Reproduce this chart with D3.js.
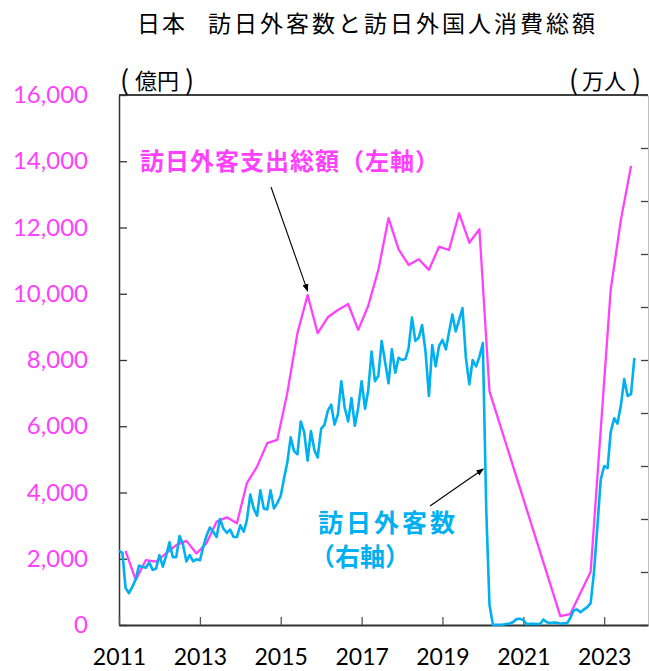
<!DOCTYPE html>
<html>
<head>
<meta charset="utf-8">
<script src="https://cdn.jsdelivr.net/npm/d3@7"></script>
<style>
  body { margin: 0; background: #fff; }
  text { font-family: "Noto Sans CJK JP", sans-serif; }
  .num text { font-family: Lato, "Liberation Sans", sans-serif; }
</style>
</head>
<body>
<div id="chart"></div>
<script>
// 訪日外客数（万人、月次、2011年1月から）
let visitorStart = [2011, 0]
let visitors = [
  70, 68, 35, 30, 36, 43, 56, 55, 54, 59, 52, 53,
  66, 55, 65, 78, 64, 64, 84, 76, 60, 66, 60, 62,
  61, 74, 84, 92, 88, 83, 100, 91, 87, 90, 83, 83,
  94, 88, 99, 123, 110, 103, 127, 110, 109, 127, 110, 115,
  122, 139, 153, 177, 164, 161, 192, 182, 155, 183, 165, 158,
  185, 189, 202, 208, 189, 199, 230, 205, 192, 214, 188, 205,
  230, 204, 221, 258, 230, 235, 268, 248, 228, 260, 238, 252,
  250, 251, 261, 290, 268, 271, 283, 258, 216, 264, 244, 263,
  269, 260, 276, 293, 277, 288, 299, 252, 227, 250, 244, 253,
  266, 108, 19, 0.3, 0.2, 0.3, 0.4, 0.9, 1.4, 2.8, 5.7, 5.9,
  4.6, 0.7, 1.2, 1.1, 1.0, 1.0, 5.2, 2.6, 1.8, 2.3, 2.1, 1.3,
  1.7, 1.7, 6.6, 13.9, 14.7, 12.0, 14.5, 16.9, 20.7, 49.9, 93.5, 137,
  150, 148, 182, 195, 190, 207, 232, 216, 218, 252
]

// 訪日外客支出総額（億円、四半期末月に配置）
let spendMonths = [
  "2011-03", "2011-06", "2011-09", "2011-12",
  "2012-03", "2012-06", "2012-09", "2012-12",
  "2013-03", "2013-06", "2013-09", "2013-12",
  "2014-03", "2014-06", "2014-09", "2014-12",
  "2015-03", "2015-06", "2015-09", "2015-12",
  "2016-03", "2016-06", "2016-09", "2016-12",
  "2017-03", "2017-06", "2017-09", "2017-12",
  "2018-03", "2018-06", "2018-09", "2018-12",
  "2019-03", "2019-06", "2019-09", "2019-12",
  "2020-03", "2021-12", "2022-03", "2022-09", "2022-12",
  "2023-03", "2023-06", "2023-09"
]
let spendValues = [
  2240, 1360, 1960, 1910,
  2160, 2410, 2540, 2160,
  2470, 3120, 3250, 3070,
  4280, 4780, 5490, 5590,
  7000, 8810, 9960, 8810,
  9290, 9510, 9690, 8910,
  9630, 10720, 12280, 11340,
  10870, 11040, 10720, 11420,
  11320, 12430, 11540, 11950,
  7050, 270, 330, 1610, 5900,
  10120, 12230, 13860
]

let leftTicks = [0, 2000, 4000, 6000, 8000, 10000, 12000, 14000, 16000]
let rightTicks = [0, 50, 100, 150, 200, 250, 300, 350, 400, 450, 500]
let yearLabels = [2011, 2013, 2015, 2017, 2019, 2021, 2023]

let pink = "#ff40ff"
let blue = "#00b0f0"

// テーブル作成
let visitorData = visitors.map(function (v, i) {
  return { date: new Date(visitorStart[0], visitorStart[1] + i, 1), value: v }
})
let spendData = spendMonths.map(function (m, i) {
  let p = m.split("-")
  return { date: new Date(+p[0], +p[1] - 1, 1), value: spendValues[i] }
})

let svg = d3.select("#chart")
  .append("svg")
  .attr("width", 649)
  .attr("height", 671)

// 描画領域
let plotL = 119, plotR = 648, plotT = 95, plotB = 625

let x = d3.scaleTime()
  .domain([new Date(2011, 0, 1), new Date(2024, 1, 1)])
  .range([plotL, plotR])
let yLeft = d3.scaleLinear().domain([0, 16000]).range([plotB, plotT])
let yRight = d3.scaleLinear().domain([0, 500]).range([plotB, plotT])

// タイトル
svg.append("text")
  .attr("x", 137)
  .attr("y", 32)
  .attr("font-size", "23px")
  .attr("letter-spacing", "2px")
  .text("日本")
svg.append("text")
  .attr("x", 208)
  .attr("y", 32)
  .attr("font-size", "23px")
  .attr("letter-spacing", "3px")
  .text("訪日外客数と訪日外国人消費総額")

// 単位（括弧は半角で位置を合わせる）
function unitLabel(x0, x1, x2, s) {
  let t = svg.append("text").attr("y", 89).attr("font-size", "22px")
  t.append("tspan").attr("x", x0).attr("dy", 1).attr("font-size", "27px").text("(")
  t.append("tspan").attr("x", x1).attr("dy", -1).text(s)
  t.append("tspan").attr("x", x2).attr("dy", 1).attr("font-size", "27px").text(")")
}
unitLabel(120, 135, 185, "億円")
unitLabel(569, 582, 632, "万人")

// 枠（上）
svg.append("line")
  .attr("x1", plotL).attr("x2", plotR)
  .attr("y1", plotT).attr("y2", plotT)
  .attr("stroke", "#000").attr("stroke-width", 1.5)

// 右軸
let gr = svg.append("g")
  .attr("transform", `translate(${plotR},0)`)
  .call(d3.axisRight(yRight).tickValues(rightTicks).tickSizeInner(-7).tickSizeOuter(0).tickFormat(""))
gr.select(".domain").attr("stroke", "#c0c0c0")
gr.selectAll(".tick line").attr("stroke", "#404040").attr("stroke-width", 1.3)

// 左軸
let gl = svg.append("g")
  .attr("class", "num")
  .attr("transform", `translate(${plotL},0)`)
  .call(d3.axisLeft(yLeft).tickValues(leftTicks).tickSizeInner(-8).tickSizeOuter(0)
    .tickPadding(31).tickFormat(d3.format(",")))
gl.select(".domain").attr("stroke", "#333").attr("stroke-width", 1.5)
gl.selectAll(".tick line").attr("stroke", "#333").attr("stroke-width", 1.3)
gl.selectAll(".tick text").attr("font-size", "24px").attr("fill", pink)

// X軸
let gx = svg.append("g")
  .attr("class", "num")
  .attr("transform", `translate(0,${plotB})`)
  .call(d3.axisBottom(x)
    .tickValues(yearLabels.map(function (y) { return new Date(y, 0, 1) }))
    .tickSizeInner(-8).tickSizeOuter(0).tickPadding(24)
    .tickFormat(d3.timeFormat("%Y")))
gx.select(".domain").attr("stroke", "#333").attr("stroke-width", 1.8)
gx.selectAll(".tick line").attr("stroke", "#555").attr("stroke-width", 1.3)
gx.selectAll(".tick text").attr("font-size", "23px").attr("fill", "#000")

// 折れ線
let spendLine = d3.line()
  .x(function (d) { return x(d.date) })
  .y(function (d) { return yLeft(d.value) })
let visitorLine = d3.line()
  .x(function (d) { return x(d.date) })
  .y(function (d) { return yRight(d.value) })

svg.append("path")
  .datum(spendData)
  .attr("fill", "none")
  .attr("stroke", pink)
  .attr("stroke-width", 2.3)
  .attr("stroke-linejoin", "round")
  .attr("d", spendLine)

svg.append("path")
  .datum(visitorData)
  .attr("fill", "none")
  .attr("stroke", blue)
  .attr("stroke-width", 2.6)
  .attr("stroke-linejoin", "round")
  .attr("d", visitorLine)

// 矢印
svg.append("defs").append("marker")
  .attr("id", "arrow")
  .attr("viewBox", "0 0 10 10")
  .attr("refX", 9).attr("refY", 5)
  .attr("markerWidth", 7).attr("markerHeight", 7)
  .attr("orient", "auto")
  .append("path")
  .attr("d", "M0,1 L10,5 L0,9 Z")
  .attr("fill", "#000")

svg.append("line")
  .attr("x1", 271).attr("y1", 187)
  .attr("x2", x(new Date(2015, 8, 1))).attr("y2", yLeft(9960) - 4)
  .attr("stroke", "#000").attr("stroke-width", 1.1)
  .attr("marker-end", "url(#arrow)")

svg.append("line")
  .attr("x1", 430).attr("y1", 506)
  .attr("x2", x(new Date(2020, 1, 1)) - 3).attr("y2", 469)
  .attr("stroke", "#000").attr("stroke-width", 1.1)
  .attr("marker-end", "url(#arrow)")

// ラベル
svg.append("text")
  .attr("x", 140)
  .attr("y", 170)
  .attr("font-size", "24px")
  .attr("font-weight", "bold")
  .attr("letter-spacing", "1px")
  .attr("fill", pink)
  .text("訪日外客支出総額（左軸）")

svg.append("text")
  .attr("x", 318)
  .attr("y", 532)
  .attr("font-size", "25px")
  .attr("font-weight", "bold")
  .attr("letter-spacing", "3px")
  .attr("fill", blue)
  .text("訪日外客数")
svg.append("text")
  .attr("x", 310)
  .attr("y", 566)
  .attr("font-size", "25px")
  .attr("font-weight", "bold")
  .attr("letter-spacing", "0px")
  .attr("fill", blue)
  .text("（右軸）")
</script>
</body>
</html>
